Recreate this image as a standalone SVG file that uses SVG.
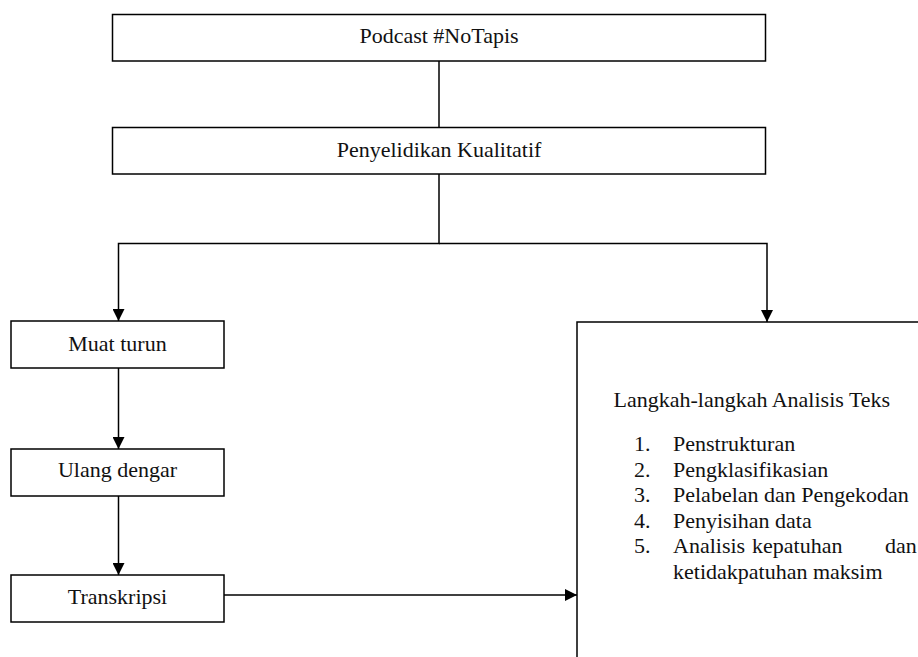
<svg xmlns="http://www.w3.org/2000/svg" width="918" height="657" viewBox="0 0 918 657">
  <style>
    .box { fill: #ffffff; stroke: #000000; stroke-width: 1.5; }
    .conn { fill: none; stroke: #000000; stroke-width: 1.5; }
    .lbl { font-family: "Liberation Serif", "Times New Roman", "DejaVu Serif", serif; font-size: 22px; fill: #111111; }
    .mid { text-anchor: middle; }
  </style>
  <defs>
    <marker id="arrow" viewBox="0 0 12 12" refX="12" refY="6" markerWidth="12" markerHeight="12" markerUnits="userSpaceOnUse" orient="auto">
      <path d="M0,0 L12,6 L0,12 z" fill="#000000"/>
    </marker>
  </defs>
  <rect width="918" height="657" fill="#ffffff"/>

  <g id="connectors">
    <path class="conn" d="M439,61 V127"/>
    <path class="conn" d="M439,174 V243.5 H118.5 V321" marker-end="url(#arrow)"/>
    <path class="conn" d="M439,243.5 H767 V322" marker-end="url(#arrow)"/>
    <path class="conn" d="M118.5,368 V449" marker-end="url(#arrow)"/>
    <path class="conn" d="M118.5,496 V575" marker-end="url(#arrow)"/>
    <path class="conn" d="M224,595 H577" marker-end="url(#arrow)"/>
  </g>

  <g id="node-podcast">
    <rect class="box" x="112.5" y="14.5" width="653" height="46.5"/>
    <text class="lbl mid" x="439" y="43">Podcast #NoTapis</text>
  </g>

  <g id="node-penyelidikan">
    <rect class="box" x="112.5" y="127.5" width="653" height="46.5"/>
    <text class="lbl mid" x="439" y="157">Penyelidikan Kualitatif</text>
  </g>

  <g id="node-muat-turun">
    <rect class="box" x="11" y="321" width="213" height="47"/>
    <text class="lbl mid" x="117.5" y="351">Muat turun</text>
  </g>

  <g id="node-ulang-dengar">
    <rect class="box" x="11" y="449" width="213" height="47"/>
    <text class="lbl mid" x="117.5" y="477">Ulang dengar</text>
  </g>

  <g id="node-transkripsi">
    <rect class="box" x="11" y="575" width="213" height="47"/>
    <text class="lbl mid" x="117.5" y="603.5">Transkripsi</text>
  </g>

  <g id="node-analisis">
    <rect class="box" x="577" y="322" width="400" height="400"/>
    <text class="lbl" x="613.5" y="407">Langkah-langkah Analisis Teks</text>
    <text class="lbl" x="634" y="451">1.</text>
    <text class="lbl" x="673" y="451">Penstrukturan</text>
    <text class="lbl" x="634" y="476.5">2.</text>
    <text class="lbl" x="673" y="476.5">Pengklasifikasian</text>
    <text class="lbl" x="634" y="502">3.</text>
    <text class="lbl" x="673" y="502">Pelabelan dan Pengekodan</text>
    <text class="lbl" x="634" y="527.5">4.</text>
    <text class="lbl" x="673" y="527.5">Penyisihan data</text>
    <text class="lbl" x="634" y="553">5.</text>
    <text class="lbl" x="673" y="553">Analisis</text>
    <text class="lbl" x="752" y="553">kepatuhan</text>
    <text class="lbl" x="885" y="553">dan</text>
    <text class="lbl" x="673" y="578.5">ketidakpatuhan maksim</text>
  </g>
</svg>
